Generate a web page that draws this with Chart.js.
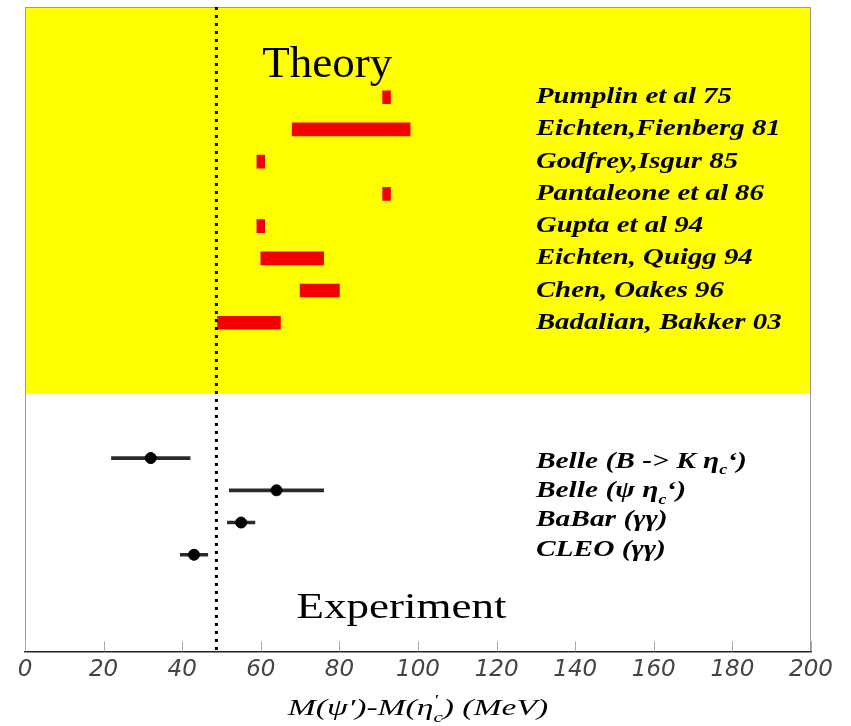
<!DOCTYPE html>
<html>
<head>
<meta charset="utf-8">
<script src="https://cdn.jsdelivr.net/npm/chart.js@4.4.0/dist/chart.umd.min.js"></script>
<style>
body { margin: 0; background: #fff; }
</style>
</head>
<body>
<canvas id="graphSplit" width="851" height="726"></canvas>
<script>
// Theory : predicted band (MeV), low and high end
var theoryLabels = ['Pumplin et al 75', 'Eichten,Fienberg 81', 'Godfrey,Isgur 85', 'Pantaleone et al 86',
	'Gupta et al 94', 'Eichten, Quigg 94', 'Chen, Oakes 96', 'Badalian, Bakker 03']
var theoryLow = [91, 68, 59, 91, 59, 60, 70, 49]
var theoryHigh = [93, 98, 61, 93, 61, 76, 80, 65]
var theoryRow = [1, 2, 3, 4, 5, 6, 7, 8]

// Experiment : central value +- error (MeV)
var expLabels = ['Belle (B -> K η_{c}‘)', 'Belle (ψ η_{c}‘)', 'BaBar (γγ)', 'CLEO (γγ)']
var expValue = [32, 64, 55, 43]
var expError = [10, 12, 3.5, 3.5]
var expRow = [12.2, 13.2, 14.2, 15.2]

var cutValue = 48.7

var yMin = -1.8
var yMax = 18.2
var splitRow = 10.2

var theoryBars = []
theoryLow.forEach(function (low, i) {
	theoryBars.push({ x: [low, theoryHigh[i]], y: theoryRow[i] })
})
var errBars = []
var points = []
expValue.forEach(function (v, i) {
	errBars.push({ x: [v - expError[i], v + expError[i]], y: expRow[i] })
	points.push({ x: v, y: expRow[i] })
})

// split text on _{..} / ^{..} so subscripts can be drawn smaller
function parseRich(str) {
	var out = []
	var re = /([_^])\{([^}]*)\}/g
	var last = 0, m
	while ((m = re.exec(str))) {
		if (m.index > last) out.push({ t: str.slice(last, m.index), k: 'n' })
		out.push({ t: m[2], k: m[1] == '_' ? 'sub' : 'sup' })
		last = re.lastIndex
	}
	if (last < str.length) out.push({ t: str.slice(last), k: 'n' })
	return out
}

function rich(ctx, str, x, y, size, style, sx, align) {
	var segs = parseRich(str)
	var pass = function (draw) {
		var cx = 0, i = 0
		while (i < segs.length) {
			var s = segs[i]
			if (s.k == 'n') {
				ctx.font = style + ' ' + size + 'px "Liberation Serif"'
				if (draw) ctx.fillText(s.t, cx, 0)
				cx += ctx.measureText(s.t).width
				i++
			} else {
				ctx.font = style + ' ' + Math.round(size * 0.62) + 'px "Liberation Serif"'
				var w = 0, j = i
				while (j < segs.length && segs[j].k != 'n') {
					var dy = segs[j].k == 'sub' ? size * 0.28 : -size * 0.4
					if (draw) ctx.fillText(segs[j].t, cx, dy)
					w = Math.max(w, ctx.measureText(segs[j].t).width)
					j++
				}
				cx += w
				i = j
			}
		}
		return cx
	}
	ctx.save()
	ctx.textBaseline = 'alphabetic'
	ctx.textAlign = 'left'
	var w = pass(false) * sx
	var x0 = align == 'center' ? x - w / 2 : x
	ctx.translate(x0, y)
	ctx.scale(sx, 1)
	pass(true)
	ctx.restore()
}

var backdrop = {
	id: 'backdrop',
	beforeDatasetsDraw: function (chart) {
		var ctx = chart.ctx
		var a = chart.chartArea
		var ys = chart.scales.y
		ctx.save()
		ctx.fillStyle = '#ffff00'
		ctx.fillRect(a.left, a.top, a.right - a.left, ys.getPixelForValue(splitRow) - a.top)
		ctx.strokeStyle = '#999'
		ctx.lineWidth = 1
		ctx.beginPath()
		ctx.moveTo(a.left + 0.5, a.bottom)
		ctx.lineTo(a.left + 0.5, a.top + 0.5)
		ctx.lineTo(a.right - 0.5, a.top + 0.5)
		ctx.lineTo(a.right - 0.5, a.bottom)
		ctx.stroke()
		ctx.restore()
	},
	afterDatasetsDraw: function (chart) {
		var ctx = chart.ctx
		var a = chart.chartArea
		var xs = chart.scales.x
		ctx.save()
		ctx.strokeStyle = '#aaa'
		ctx.lineWidth = 1
		xs.ticks.forEach(function (t) {
			var px = Math.round(xs.getPixelForValue(t.value)) + 0.5
			ctx.beginPath()
			ctx.moveTo(px, a.bottom)
			ctx.lineTo(px, a.bottom - 10)
			ctx.stroke()
		})
		ctx.restore()
	},
	afterDraw: function (chart) {
		var ctx = chart.ctx
		var a = chart.chartArea
		var xs = chart.scales.x
		var ys = chart.scales.y
		var labelX = xs.getPixelForValue(130)
		ctx.save()
		ctx.fillStyle = '#000'
		theoryLabels.forEach(function (lab, i) {
			rich(ctx, lab, labelX, ys.getPixelForValue(theoryRow[i]) + 6, 24, 'italic bold', 1.2, 'left')
		})
		expLabels.forEach(function (lab, i) {
			rich(ctx, lab, labelX, ys.getPixelForValue(12.5 + i * 0.91), 23, 'italic bold', 1.28, 'left')
		})
		rich(ctx, 'Theory', xs.getPixelForValue(76.9), ys.getPixelForValue(0.38), 45, 'normal', 1, 'center')
		rich(ctx, 'Experiment', xs.getPixelForValue(95.8), ys.getPixelForValue(17.16), 36, 'normal', 1.25, 'center')
		rich(ctx, 'M(ψ′)-M(η^{′}_{c}) (MeV)', (a.left + a.right) / 2, chart.height - 11, 24, 'italic', 1.4, 'center')
		ctx.restore()
	}
}

var ctx = document.getElementById('graphSplit').getContext('2d')
var myChart = new Chart(ctx, {
	type: 'bar',
	data: {
		datasets: [{
			type: 'line',
			data: [{ x: cutValue, y: yMin }, { x: cutValue, y: yMax }],
			borderColor: '#000',
			borderWidth: 3,
			borderDash: [3, 5],
			borderCapStyle: 'butt',
			pointRadius: 0,
			order: 0
		}, {
			label: 'Theory',
			data: theoryBars,
			backgroundColor: '#f20000',
			barThickness: 13,
			grouped: false,
			order: 3
		}, {
			label: 'Errors',
			data: errBars,
			backgroundColor: '#2a2a2a',
			barThickness: 3,
			grouped: false,
			order: 2
		}, {
			type: 'scatter',
			label: 'Experiment',
			data: points,
			backgroundColor: '#000',
			borderColor: '#000',
			pointRadius: 5.5,
			order: 1
		}]
	},
	options: {
		indexAxis: 'y',
		responsive: false,
		animation: false,
		layout: { padding: { left: 25, right: 40, top: 7, bottom: 37 } },
		plugins: { legend: { display: false }, tooltip: { enabled: false } },
		scales: {
			x: {
				type: 'linear',
				min: 0,
				max: 200,
				offset: false,
				grid: { display: false, drawTicks: false },
				border: { display: true, color: '#222', width: 1.5 },
				ticks: {
					stepSize: 20,
					padding: 5,
					color: '#444',
					font: { family: 'DejaVu Sans', size: 23, style: 'italic' }
				}
			},
			y: {
				type: 'linear',
				min: yMin,
				max: yMax,
				offset: false,
				reverse: true,
				display: false
			}
		}
	},
	plugins: [backdrop]
})
</script>
</body>
</html>
